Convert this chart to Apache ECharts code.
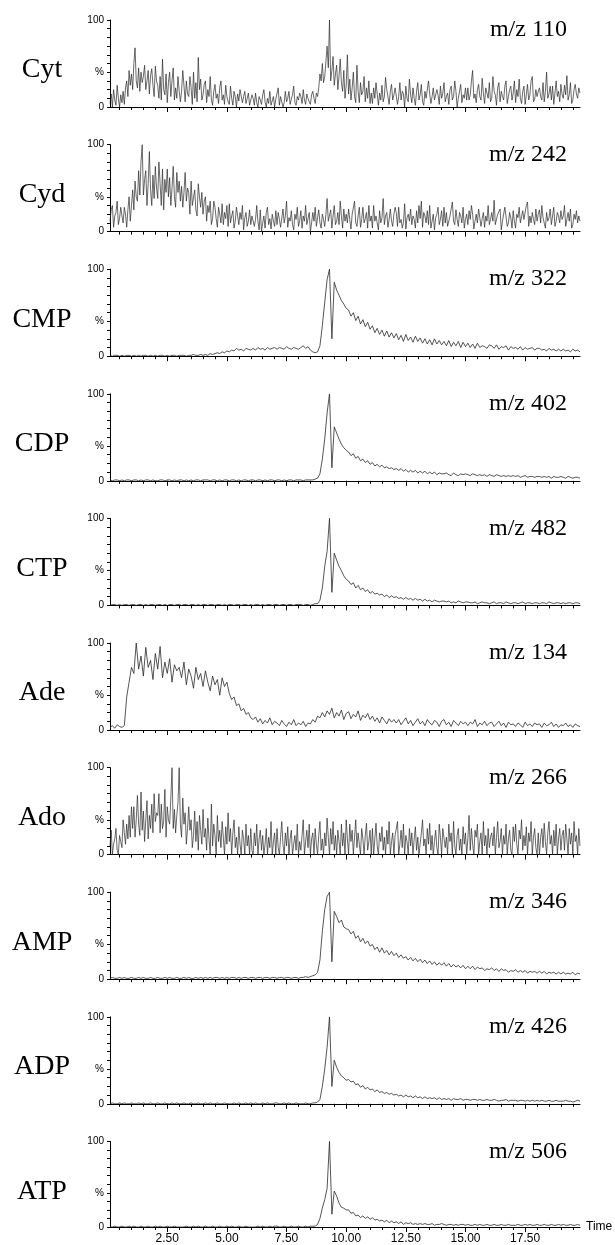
<!DOCTYPE html>
<html><head><meta charset="utf-8">
<script src="https://cdn.jsdelivr.net/npm/echarts@6/dist/echarts.min.js"></script>
<style>html,body{margin:0;padding:0;background:#fff}#c{width:615px;height:1245px}</style>
</head><body><div id="c"></div>
<script>
// ---- data ----
const COMPOUNDS = ['Cyt','Cyd','CMP','CDP','CTP','Ade','Ado','AMP','ADP','ATP'];
const MZ_LABELS = ['m/z 110','m/z 242','m/z 322','m/z 402','m/z 482','m/z 134','m/z 266','m/z 346','m/z 426','m/z 506'];
const T_START = 0.1;                                  // first scan time (min)
const T_STEPS = [0.05,0.05,0.1,0.1,0.1,0.1,0.05,0.1,0.1,0.1]; // scan interval of each trace (min)
const X_MIN = 0.1, X_MAX = 19.8;
const X_TICK_LABELS = [2.5, 5, 7.5, 10, 12.5, 15, 17.5];
const Y_TICK_LABELS = {0:'0', 40:'%', 100:'100'};

// 0.05-min traces: one row = one minute (20 scans); 0.1-min traces: one row = 10 scans
const CYT = [
 4,15,0,20,8,2,25,10,0,14,5,18,3,22,30,12,42,25,38,20,
 50,68,30,22,45,18,40,28,35,48,20,30,42,15,36,44,25,12,47,30,
 25,10,35,8,55,20,14,38,5,28,40,12,30,45,8,22,10,35,18,6,
 18,42,25,6,30,15,12,35,22,3,40,10,28,6,57,20,32,8,14,26,
 30,5,20,12,35,8,2,18,26,10,15,4,22,30,8,14,3,25,12,6,
 3,24,10,2,18,12,0,15,7,20,22,5,12,18,4,10,16,2,8,14,
 10,2,16,5,0,12,8,3,14,20,6,0,10,4,18,2,7,12,0,9,
 8,22,2,12,14,0,5,18,6,10,18,3,9,14,24,5,2,12,8,16,
 12,4,20,8,3,15,10,6,3,14,18,10,4,16,12,22,38,30,50,28,
 35,52,70,45,100,30,42,58,25,38,48,20,36,55,28,18,42,10,25,60,
 15,32,8,22,40,12,5,48,18,5,28,14,18,35,6,22,10,30,4,16,
 4,22,10,28,30,2,16,8,25,6,12,34,20,12,3,18,26,8,14,22,
 20,3,12,28,8,18,15,0,24,10,6,32,14,5,22,10,2,18,28,8,
 14,26,6,2,18,10,9,30,15,4,12,22,8,7,20,14,3,24,10,16,
 28,6,12,16,3,20,24,8,12,30,18,0,10,18,26,5,14,10,22,8,
 22,8,14,30,42,10,15,5,20,26,12,8,33,16,4,22,20,10,28,6,
 10,35,18,14,2,22,28,6,18,12,8,24,30,4,12,20,24,8,16,30,
 5,20,12,32,10,4,18,24,3,14,26,8,14,30,35,6,9,20,12,18,
 22,12,8,28,6,18,40,10,15,24,8,24,3,16,30,12,18,6,26,14,
 10,25,14,36,8,14,28,4,8,20,26,15,10,22,16];
const CYD = [
 12,25,30,5,18,22,35,8,15,28,18,10,28,20,5,25,40,12,30,48,
 25,58,40,35,70,42,80,100,42,60,70,30,55,92,48,30,65,38,75,50,
 38,80,55,30,72,25,60,45,72,40,62,30,50,75,40,28,68,45,58,35,
 52,28,45,68,35,50,45,20,58,30,32,48,25,18,55,40,28,45,20,35,
 40,12,30,22,35,8,15,35,28,15,5,28,20,10,32,8,22,15,30,6,
 32,10,18,24,4,12,28,18,8,22,14,30,2,16,22,6,12,25,8,18,
 20,6,14,30,12,2,25,0,10,18,4,22,28,8,15,3,20,12,6,24,
 8,22,14,5,3,26,10,18,35,5,16,12,24,8,2,20,14,28,6,12,
 24,4,18,12,30,8,15,22,0,10,22,12,28,6,16,25,10,4,20,14,
 6,20,38,12,10,25,4,18,30,8,12,22,8,35,18,4,26,12,20,10,
 26,14,3,20,22,35,10,6,18,28,5,14,28,10,15,22,4,30,12,18,
 4,30,12,18,20,2,24,10,16,38,8,18,22,5,14,26,12,6,20,28,
 22,6,28,10,14,4,10,32,3,16,20,12,26,8,18,14,4,24,10,30,
 15,35,5,22,18,10,24,8,30,4,12,20,2,16,20,28,8,14,24,6,
 28,10,22,6,4,18,16,34,12,8,25,14,6,22,18,10,28,4,14,20,
 8,24,14,30,20,3,12,20,10,26,28,6,15,22,5,18,12,30,8,14,
 22,12,36,8,6,20,18,26,2,12,14,28,30,6,10,22,16,4,24,12,
 4,20,16,28,10,8,24,14,12,30,34,6,18,10,22,14,8,26,12,20,
 25,10,30,16,14,4,22,12,16,26,8,18,28,6,12,22,18,10,24,14,
 18,30,6,14,22,12,26,4,8,20,14,24,10,18,12];
const CMP = [
 1,0,1,1,0,1,0,1,1,0,
 1,0,1,0,1,1,0,1,0,1,
 0,1,1,0,1,0,1,1,0,1,
 1,1,0,1,1,2,1,1,2,1,
 2,1,3,2,3,4,3,5,4,6,
 5,7,6,9,7,8,6,9,8,7,
 9,7,10,8,9,7,10,8,9,10,
 8,10,9,8,11,9,8,10,9,8,
 10,12,9,11,7,5,4,5,12,35,
 62,88,100,20,85,76,70,64,60,55,
 53,46,50,41,46,37,42,34,39,31,
 35,27,32,25,30,23,29,22,27,21,
 26,19,24,17,25,18,22,16,23,17,
 21,15,20,14,19,13,20,14,18,13,
 17,12,18,11,16,12,17,10,16,11,
 15,10,14,9,15,10,12,11,9,13,
 12,9,13,8,11,10,12,7,11,9,
 10,8,11,7,10,8,9,10,7,9,
 9,7,8,6,9,7,8,6,8,6,
 8,6,7,5,8,6,7,5];
const CDP = [
 1,0,1,1,0,1,0,1,1,0,
 1,1,0,1,0,1,1,0,1,0,
 0,1,1,0,1,1,0,1,0,1,
 1,0,1,0,1,0,1,1,0,1,
 1,1,0,1,1,0,1,0,1,1,
 0,1,1,0,1,0,1,1,0,1,
 1,0,1,1,0,1,0,1,1,0,
 1,1,0,1,0,1,1,0,1,1,
 1,0,1,1,1,1,2,3,8,25,
 48,78,100,15,62,55,48,42,38,35,
 33,29,31,26,28,23,25,21,23,19,
 21,17,19,16,18,15,16,14,15,13,
 14,12,14,11,13,10,12,10,12,9,
 11,9,11,8,10,8,10,7,9,8,
 8,9,7,6,9,7,6,8,7,8,
 7,6,8,7,6,7,6,7,5,7,
 6,5,7,6,5,6,5,6,5,6,
 5,6,4,5,6,4,5,5,4,5,
 5,4,5,4,5,3,5,4,4,5,
 4,3,5,4,3,4,4,3];
const CTP = [
 0,1,1,0,1,0,1,1,0,1,
 1,0,1,1,0,1,0,1,1,0,
 1,1,0,1,0,1,1,0,1,1,
 0,1,1,0,1,1,0,1,0,1,
 1,0,1,1,0,1,1,0,1,0,
 1,1,0,1,1,0,1,1,0,1,
 0,1,1,0,1,0,1,1,0,1,
 1,0,1,1,0,1,1,0,1,1,
 1,0,1,1,0,1,2,2,6,20,
 45,62,100,15,60,52,45,40,34,30,
 28,24,26,20,23,18,20,16,18,14,
 16,13,14,12,13,10,12,9,11,9,
 10,8,9,7,9,7,8,6,8,6,
 7,5,7,5,6,4,6,5,4,5,
 5,4,5,3,4,3,5,4,3,4,
 4,3,3,4,2,3,4,3,3,2,
 3,4,2,3,3,2,4,3,2,3,
 3,2,3,4,2,3,3,2,3,3,
 2,3,3,2,4,3,2,3,3,2,
 3,2,3,3,2,3,3,2];
const ADE = [
 3,5,2,6,4,3,5,38,55,72,
 65,100,70,85,62,95,72,80,58,88,
 70,96,60,78,65,82,55,75,68,72,
 60,78,52,70,62,48,72,58,65,50,
 68,55,45,62,52,58,40,60,50,55,
 42,35,38,28,30,22,25,18,20,14,
 12,15,9,13,7,11,8,14,6,10,
 8,5,11,7,4,9,6,12,5,8,
 6,10,4,8,7,12,9,16,14,20,
 15,22,18,25,14,20,16,23,12,19,
 21,13,18,15,22,11,17,14,19,12,
 16,10,14,8,15,11,7,13,9,12,
 8,12,6,10,14,7,11,5,9,13,
 7,10,5,12,8,6,11,9,4,10,
 12,6,9,4,11,8,5,10,7,9,
 5,9,7,12,4,8,6,10,5,8,
 9,4,7,10,5,8,3,9,6,7,
 4,8,6,3,9,5,7,4,8,6,
 7,3,8,5,6,9,4,7,3,6,
 5,8,4,6,3,7,5,4];
const ADO = [
 10,28,0,12,18,30,5,0,22,15,8,40,25,12,35,18,45,20,55,30,
 55,20,40,68,35,22,72,28,50,15,40,62,18,45,30,58,25,70,38,48,
 45,70,25,58,30,38,75,20,55,40,35,65,100,30,52,25,45,60,100,35,
 20,65,35,48,12,30,55,28,40,8,22,50,15,38,5,45,28,12,52,20,
 30,5,42,18,0,58,10,35,22,0,45,15,28,8,38,20,0,32,12,48,
 15,30,0,25,40,8,20,0,32,12,0,28,18,0,35,10,22,0,30,5,
 0,25,10,35,0,18,28,5,22,0,12,30,0,20,8,38,0,15,25,0,
 30,8,0,20,38,12,0,25,10,32,0,18,28,0,12,22,5,35,0,15,
 5,22,40,0,15,28,8,35,0,18,25,0,30,12,0,22,38,5,18,0,
 25,10,42,20,0,30,12,38,5,22,0,28,15,0,35,10,25,0,40,18,
 0,35,15,28,0,20,40,8,25,12,0,30,18,0,22,36,5,15,28,0,
 30,0,18,36,10,0,25,15,32,5,20,0,28,12,38,0,15,25,0,22,
 20,38,0,12,28,8,35,0,22,15,0,30,10,25,0,18,32,5,20,0,
 0,25,40,10,18,0,30,12,36,5,22,0,15,28,8,0,35,20,0,30,
 28,8,20,0,35,15,25,0,38,10,0,22,30,5,18,0,32,12,25,0,
 18,45,5,30,12,0,28,20,35,0,15,25,0,38,10,22,0,30,8,20,
 25,10,32,0,20,38,8,15,30,0,22,12,35,0,18,28,5,0,32,15,
 35,12,0,28,18,40,5,22,10,32,0,25,15,38,0,20,30,8,0,25,
 0,20,30,8,36,15,0,25,38,12,22,0,28,10,35,0,18,30,5,22,
 28,5,35,18,0,30,12,25,0,38,15,22,0,30,10];
const AMP = [
 1,2,1,1,2,1,2,1,1,2,
 1,1,2,1,2,1,1,2,1,1,
 2,1,1,2,1,2,1,1,2,1,
 1,2,1,2,1,1,2,1,2,1,
 2,1,2,1,2,2,1,2,1,2,
 1,2,2,1,2,1,2,2,1,2,
 2,1,2,2,1,2,2,1,2,2,
 1,2,2,1,2,2,1,2,2,1,
 2,2,3,2,3,4,5,8,22,55,
 80,95,100,20,78,72,65,68,60,58,
 57,52,55,47,50,43,47,41,44,38,
 40,34,37,31,36,30,33,28,32,27,
 30,25,28,24,26,22,25,21,24,20,
 23,19,22,18,21,17,20,16,19,16,
 19,15,18,14,17,14,16,13,16,12,
 15,12,15,11,14,12,13,10,12,11,
 13,10,12,9,12,10,11,8,10,9,
 11,8,10,8,10,7,9,8,9,7,
 9,7,9,6,8,7,8,6,8,6,
 8,6,7,6,8,5,7,6];
const ADP = [
 0,1,0,0,1,0,1,0,0,1,
 0,0,1,0,1,0,0,1,0,0,
 1,0,0,1,0,0,1,0,1,0,
 0,1,0,0,1,0,0,1,0,0,
 1,0,1,0,0,1,0,0,1,0,
 0,0,1,0,1,0,0,1,0,1,
 0,1,0,0,1,0,1,0,0,1,
 1,0,0,1,0,1,0,0,1,0,
 0,0,1,0,0,1,1,2,5,20,
 40,65,100,20,50,42,36,32,30,27,
 28,25,26,22,23,19,21,17,19,16,
 17,14,16,13,14,12,13,11,12,10,
 11,9,10,8,10,8,9,7,9,7,
 8,6,8,6,7,6,7,5,7,5,
 6,5,6,4,6,5,5,6,4,5,
 5,4,5,5,4,5,4,4,5,4,
 4,5,4,3,4,4,5,3,4,4,
 4,3,4,4,3,4,3,4,3,4,
 3,4,3,3,4,3,3,4,3,3,
 3,4,3,3,2,3,4,3];
const ATP = [
 0,0,1,0,0,1,0,0,1,0,
 1,0,0,1,0,0,1,0,0,1,
 0,1,0,0,1,0,0,1,0,0,
 0,0,1,0,0,1,0,1,0,0,
 1,0,0,1,0,0,1,0,0,1,
 0,1,0,0,1,0,0,1,0,0,
 0,0,1,0,1,0,0,1,0,1,
 1,0,0,1,0,0,1,0,0,1,
 0,0,1,0,1,1,1,3,10,22,
 32,45,100,15,42,36,28,23,22,20,
 20,16,17,13,14,11,13,10,12,9,
 11,8,9,7,8,6,8,5,7,5,
 6,4,6,3,5,4,5,3,4,3,
 4,3,4,3,3,4,2,3,3,4,
 3,2,3,3,2,3,2,3,3,2,
 3,2,2,3,2,3,2,2,3,2,
 2,3,2,2,3,2,2,3,2,2,
 2,3,2,2,3,2,3,2,2,3,
 2,2,3,2,2,3,2,2,3,2,
 3,2,2,3,2,2,3,2];
const SERIES_VALUES = [CYT, CYD, CMP, CDP, CTP, ADE, ADO, AMP, ADP, ATP];

// ---- layout / style ----
const GRID_LEFT = 110, GRID_W = 470, GRID_TOP0 = 20, GRID_STEP = 124.6, GRID_H = 87;
const MINOR_TICKS = [];
for (let v = 0.5; v < X_MAX; v += 0.5) MINOR_TICKS.push(+v.toFixed(2));
const tickFont = '"Liberation Sans", Arial, sans-serif';
const serif = '"Liberation Serif", "Times New Roman", serif';

const grid = [], xAxis = [], yAxis = [], series = [], graphic = [];
COMPOUNDS.forEach((name, i) => {
  const top = GRID_TOP0 + GRID_STEP * i;
  const last = i === COMPOUNDS.length - 1;
  grid.push({left: GRID_LEFT, top: top, width: GRID_W, height: GRID_H});
  xAxis.push({
    type: 'value', gridIndex: i, min: X_MIN, max: X_MAX, position: 'bottom',
    axisLine: {show: true, onZero: false, lineStyle: {color: '#000', width: 1}},
    axisTick: {show: true, customValues: MINOR_TICKS, length: 3, lineStyle: {color: '#000', width: 1}},
    axisLabel: {show: false}, splitLine: {show: false}
  });
  xAxis.push({
    type: 'value', gridIndex: i, min: X_MIN, max: X_MAX, position: 'bottom',
    axisLine: {show: false, onZero: false},
    axisTick: {show: true, customValues: X_TICK_LABELS, length: 5, lineStyle: {color: '#000', width: 1}},
    axisLabel: {show: last, customValues: X_TICK_LABELS, formatter: v => v.toFixed(2),
      fontFamily: tickFont, fontSize: 12, color: '#000', margin: 6},
    splitLine: {show: false},
    name: last ? 'Time' : '', nameLocation: 'end', nameGap: 6,
    nameTextStyle: {fontFamily: tickFont, fontSize: 12, color: '#000', verticalAlign: 'middle'}
  });
  yAxis.push({
    type: 'value', gridIndex: i, min: 0, max: 100, interval: 10,
    axisLine: {show: true, lineStyle: {color: '#000', width: 1}},
    axisTick: {show: true, length: 3, lineStyle: {color: '#000', width: 1}},
    axisLabel: {fontFamily: tickFont, fontSize: 10, color: '#000', margin: 6,
      formatter: v => (Y_TICK_LABELS[v] !== undefined ? Y_TICK_LABELS[v] : '')},
    splitLine: {show: false}
  });
  const step = T_STEPS[i];
  series.push({
    type: 'line', xAxisIndex: 2 * i, yAxisIndex: i, showSymbol: false, symbol: 'none',
    lineStyle: {color: '#2a2a2a', width: step < 0.1 ? 0.7 : 0.8}, animation: false,
    data: SERIES_VALUES[i].map((v, k) => [+(T_START + step * k).toFixed(3), v])
  });
  graphic.push({type: 'text', x: 42, y: top + 50,
    style: {text: name, font: '28px ' + serif, fill: '#000', textAlign: 'center', textVerticalAlign: 'middle'}});
  graphic.push({type: 'text', x: 567, y: top + 10,
    style: {text: MZ_LABELS[i], font: '24px ' + serif, fill: '#000', textAlign: 'right', textVerticalAlign: 'middle'}});
});

const chart = echarts.init(document.getElementById('c'), null, {renderer: 'canvas'});
chart.setOption({animation: false, backgroundColor: '#fff', grid, xAxis, yAxis, series, graphic});
</script>
</body></html>
